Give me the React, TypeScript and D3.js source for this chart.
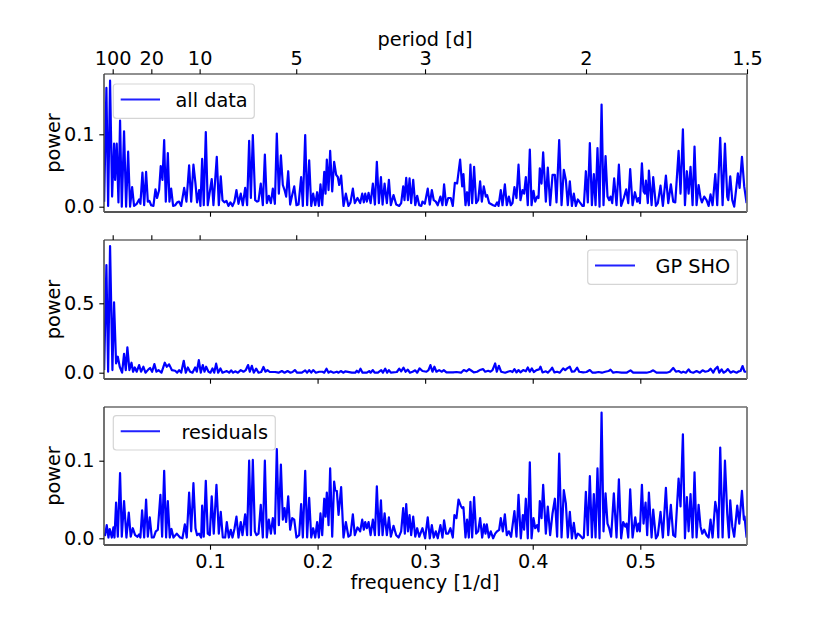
import { useEffect, useRef } from 'react';
import * as d3 from 'd3';

type Pt = [number, number];

const freqTicks = [0.1, 0.2, 0.3, 0.4, 0.5];
const periodTicks = [100, 20, 10, 5, 3, 2, 1.5];

// frequency [1/d], power
const allData: Pt[] = [
  [.0016,.007],[.0037,.164],[.0053,.001],[.0071,.174],[.0090,.014],[.0108,.087],[.0118,.037],[.0133,.087],[.0149,.006],[.0164,.119],
  [.0180,.000],[.0201,.104],[.0220,.000],[.0239,.076],[.0257,.000],[.0276,.027],[.0294,.001],[.0319,.004],[.0341,.010],[.0353,.004],
  [.0372,.047],[.0388,.002],[.0406,.048],[.0422,.007],[.0437,.008],[.0453,.002],[.0474,.001],[.0493,.024],[.0508,.012],[.0527,.023],
  [.0542,.056],[.0558,.037],[.0574,.092],[.0589,.007],[.0608,.074],[.0623,.007],[.0639,.025],[.0657,.001],[.0676,.002],[.0695,.006],
  [.0713,.007],[.0732,.001],[.0760,.026],[.0781,.007],[.0806,.057],[.0825,.007],[.0846,.058],[.0865,.032],[.0880,.006],[.0899,.023],
  [.0911,.001],[.0927,.066],[.0942,.002],[.0961,.103],[.0979,.002],[.1016,.038],[.1032,.002],[.1063,.069],[.1082,.002],[.1100,.042],
  [.1116,.009],[.1134,.006],[.1153,.008],[.1171,.001],[.1190,.006],[.1209,.001],[.1227,.007],[.1246,.023],[.1265,.004],[.1286,.018],
  [.1305,.002],[.1327,.026],[.1345,.002],[.1364,.091],[.1380,.012],[.1398,.099],[.1420,.009],[.1438,.007],[.1451,.008],[.1472,.032],
  [.1491,.002],[.1510,.072],[.1528,.005],[.1547,.015],[.1566,.005],[.1584,.025],[.1603,.004],[.1621,.101],[.1640,.018],[.1659,.071],
  [.1677,.030],[.1693,.023],[.1708,.014],[.1727,.049],[.1745,.003],[.1764,.016],[.1783,.028],[.1804,.002],[.1823,.003],[.1847,.041],
  [.1863,.001],[.1885,.099],[.1903,.002],[.1922,.064],[.1941,.001],[.1959,.018],[.1978,.002],[.1996,.020],[.2012,.001],[.2027,.031],
  [.2043,.002],[.2062,.048],[.2074,.018],[.2086,.065],[.2102,.023],[.2117,.077],[.2136,.021],[.2154,.062],[.2173,.044],[.2188,.041],
  [.2201,.030],[.2219,.043],[.2241,.001],[.2263,.018],[.2287,.001],[.2306,.006],[.2328,.025],[.2346,.005],[.2371,.012],[.2396,.005],
  [.2415,.018],[.2430,.006],[.2443,.018],[.2458,.007],[.2474,.019],[.2493,.005],[.2514,.032],[.2533,.003],[.2551,.062],[.2570,.005],
  [.2589,.041],[.2604,.003],[.2623,.032],[.2644,.005],[.2663,.037],[.2681,.002],[.2706,.016],[.2731,.003],[.2759,.001],[.2777,.005],
  [.2796,.028],[.2808,.009],[.2824,.040],[.2840,.009],[.2855,.039],[.2870,.005],[.2889,.037],[.2908,.002],[.2926,.015],[.2945,.002],
  [.2964,.001],[.2975,.007],[.2997,.004],[.3024,.025],[.3043,.003],[.3062,.023],[.3080,.009],[.3099,.007],[.3117,.002],[.3142,.014],
  [.3161,.002],[.3176,.031],[.3195,.002],[.3214,.012],[.3238,.012],[.3257,.001],[.3276,.033],[.3297,.032],[.3325,.065],[.3344,.028],
  [.3356,.045],[.3375,.002],[.3390,.020],[.3406,.002],[.3421,.058],[.3437,.005],[.3455,.055],[.3474,.005],[.3493,.009],[.3511,.035],
  [.3527,.007],[.3545,.028],[.3564,.014],[.3576,.016],[.3595,.005],[.3632,.002],[.3651,.001],[.3669,.006],[.3682,.001],[.3703,.023],
  [.3719,.002],[.3741,.031],[.3759,.002],[.3778,.014],[.3796,.002],[.3812,.005],[.3830,.027],[.3849,.012],[.3868,.058],[.3886,.009],
  [.3905,.023],[.3920,.018],[.3936,.041],[.3954,.002],[.3973,.079],[.3989,.002],[.4007,.022],[.4023,.007],[.4041,.014],[.4054,.012],
  [.4066,.053],[.4082,.032],[.4097,.075],[.4122,.007],[.4140,.054],[.4162,.002],[.4184,.044],[.4206,.044],[.4221,.006],[.4246,.092],
  [.4268,.002],[.4289,.051],[.4308,.037],[.4326,.002],[.4345,.035],[.4364,.001],[.4382,.018],[.4401,.001],[.4419,.010],[.4438,.006],
  [.4463,.001],[.4475,.001],[.4494,.049],[.4512,.006],[.4531,.088],[.4550,.002],[.4568,.045],[.4584,.002],[.4602,.081],[.4621,.000],
  [.4640,.141],[.4658,.002],[.4677,.070],[.4695,.014],[.4711,.009],[.4723,.014],[.4739,.005],[.4757,.039],[.4779,.002],[.4801,.058],
  [.4822,.001],[.4847,.012],[.4869,.024],[.4888,.005],[.4906,.052],[.4928,.002],[.4950,.020],[.4971,.007],[.4984,.012],[.4996,.005],
  [.5015,.060],[.5030,.021],[.5043,.018],[.5052,.036],[.5070,.005],[.5080,.050],[.5105,.002],[.5120,.041],[.5145,.001],[.5163,.005],
  [.5188,.029],[.5210,.001],[.5238,.043],[.5260,.005],[.5284,.031],[.5306,.007],[.5325,.006],[.5356,.077],[.5374,.018],[.5396,.107],
  [.5415,.002],[.5433,.049],[.5449,.018],[.5467,.055],[.5486,.002],[.5504,.083],[.5523,.002],[.5542,.030],[.5560,.012],[.5573,.006],
  [.5594,.014],[.5616,.009],[.5635,.001],[.5653,.017],[.5672,.002],[.5697,.045],[.5715,.002],[.5743,.095],[.5765,.002],[.5787,.087],
  [.5808,.014],[.5818,.009],[.5836,.042],[.5855,.009],[.5873,.000],[.5907,.046],[.5923,.026],[.5945,.069],[.5966,.028],[.5988,.005],
];

const gpSho: Pt[] = [
  [.0016,.019],[.0037,.775],[.0053,.007],[.0071,.913],[.0093,.019],[.0108,.507],[.0127,.067],[.0143,.115],[.0161,.043],[.0183,.000],
  [.0201,.135],[.0217,.019],[.0232,.183],[.0251,.019],[.0270,.072],[.0285,.007],[.0301,.038],[.0319,.007],[.0341,.055],[.0359,.007],
  [.0381,.043],[.0400,.000],[.0428,.024],[.0443,.034],[.0462,.007],[.0483,.062],[.0502,.007],[.0521,.019],[.0549,.000],[.0580,.072],
  [.0598,.043],[.0620,.060],[.0645,.019],[.0676,.014],[.0695,.000],[.0713,.019],[.0732,.000],[.0756,.086],[.0775,.000],[.0794,.038],
  [.0815,.007],[.0837,.000],[.0862,.038],[.0877,.007],[.0896,.091],[.0914,.000],[.0933,.055],[.0949,.007],[.0964,.043],[.0986,.007],
  [.1004,.000],[.1023,.031],[.1039,.000],[.1057,.065],[.1076,.000],[.1097,.031],[.1116,.000],[.1156,.012],[.1178,.000],[.1196,.017],
  [.1215,.000],[.1234,.010],[.1259,.000],[.1286,.019],[.1311,.007],[.1333,.019],[.1354,.055],[.1370,.007],[.1389,.050],[.1407,.000],
  [.1429,.029],[.1451,.000],[.1476,.005],[.1497,.041],[.1516,.007],[.1534,.019],[.1556,.005],[.1606,.005],[.1637,.000],[.1668,.012],
  [.1693,.000],[.1721,.012],[.1748,.000],[.1767,.005],[.1789,.019],[.1810,.000],[.1854,.000],[.1885,.017],[.1903,.000],[.1922,.019],
  [.1941,.000],[.1959,.019],[.1984,.000],[.2015,.007],[.2046,.007],[.2062,.000],[.2083,.029],[.2102,.000],[.2120,.010],[.2148,.000],
  [.2179,.007],[.2195,.000],[.2216,.012],[.2241,.000],[.2257,.010],[.2319,.000],[.2350,.000],[.2365,.014],[.2381,.002],[.2399,.029],
  [.2418,.000],[.2458,.000],[.2480,.012],[.2493,.000],[.2514,.019],[.2530,.000],[.2561,.000],[.2592,.019],[.2607,.000],[.2629,.029],
  [.2647,.000],[.2663,.019],[.2681,.000],[.2737,.005],[.2759,.029],[.2777,.010],[.2799,.036],[.2818,.007],[.2839,.022],[.2858,.000],
  [.2883,.007],[.2908,.017],[.2926,.000],[.2948,.031],[.2975,.012],[.3012,.007],[.3031,.019],[.3049,.055],[.3068,.007],[.3086,.043],
  [.3105,.007],[.3130,.019],[.3155,.007],[.3173,.019],[.3198,.002],[.3260,.002],[.3291,.005],[.3334,.000],[.3359,.019],[.3384,.010],
  [.3409,.026],[.3431,.014],[.3452,.002],[.3483,.007],[.3508,.019],[.3539,.026],[.3558,.007],[.3586,.014],[.3607,.007],[.3626,.019],
  [.3651,.067],[.3666,.007],[.3685,.050],[.3706,.007],[.3744,.000],[.3768,.007],[.3793,.012],[.3812,.005],[.3830,.026],[.3849,.002],
  [.3868,.019],[.3886,.002],[.3911,.019],[.3936,.010],[.3954,.038],[.3973,.007],[.3992,.031],[.4010,.005],[.4035,.019],[.4060,.024],
  [.4072,.043],[.4091,.002],[.4122,.010],[.4140,.000],[.4165,.019],[.4181,.036],[.4202,.002],[.4227,.007],[.4252,.000],[.4283,.031],
  [.4302,.019],[.4320,.031],[.4345,.043],[.4364,.007],[.4388,.010],[.4413,.036],[.4432,.007],[.4469,.002],[.4500,.005],[.4531,.019],
  [.4556,.000],[.4581,.000],[.4612,.005],[.4643,.000],[.4674,.007],[.4705,.012],[.4723,.022],[.4748,.000],[.4779,.005],[.4826,.000],
  [.4872,.000],[.4909,.017],[.4934,.000],[.4996,.000],[.5058,.000],[.5095,.007],[.5120,.017],[.5151,.000],[.5244,.000],[.5275,.007],
  [.5306,.034],[.5331,.007],[.5356,.012],[.5380,.000],[.5399,.007],[.5424,.000],[.5449,.024],[.5467,.005],[.5492,.000],[.5523,.012],
  [.5554,.000],[.5579,.017],[.5604,.007],[.5632,.012],[.5653,.029],[.5678,.000],[.5694,.024],[.5718,.043],[.5734,.000],[.5756,.024],
  [.5774,.000],[.5796,.010],[.5814,.026],[.5839,.000],[.5864,.010],[.5895,.000],[.5917,.010],[.5932,.012],[.5951,.048],[.5969,.007],
  [.5991,.007],
];

const residuals: Pt[] = [
  [.0016,.006],[.0025,.004],[.0040,.017],[.0056,.001],[.0068,.012],[.0087,.001],[.0102,.014],[.0112,.001],[.0127,.046],[.0143,.002],
  [.0164,.084],[.0180,.002],[.0201,.048],[.0223,.001],[.0245,.033],[.0263,.002],[.0282,.013],[.0304,.004],[.0326,.002],[.0341,.005],
  [.0353,.001],[.0369,.036],[.0388,.001],[.0406,.050],[.0422,.002],[.0440,.027],[.0459,.001],[.0477,.001],[.0496,.009],[.0515,.011],
  [.0539,.056],[.0555,.002],[.0574,.087],[.0592,.001],[.0608,.048],[.0626,.001],[.0642,.012],[.0660,.001],[.0691,.006],[.0722,.001],
  [.0744,.000],[.0766,.018],[.0784,.001],[.0806,.059],[.0825,.009],[.0846,.071],[.0865,.013],[.0880,.004],[.0899,.006],[.0918,.001],
  [.0927,.042],[.0942,.002],[.0961,.074],[.0979,.006],[.0998,.004],[.1016,.054],[.1035,.006],[.1060,.069],[.1082,.006],[.1100,.034],
  [.1119,.001],[.1141,.001],[.1156,.021],[.1175,.001],[.1193,.011],[.1209,.001],[.1227,.012],[.1246,.028],[.1265,.001],[.1286,.021],
  [.1302,.004],[.1327,.031],[.1345,.004],[.1364,.100],[.1380,.004],[.1398,.101],[.1417,.009],[.1432,.004],[.1451,.006],[.1472,.043],
  [.1491,.001],[.1510,.100],[.1528,.001],[.1547,.024],[.1566,.006],[.1584,.026],[.1603,.006],[.1621,.115],[.1640,.017],[.1659,.095],
  [.1677,.024],[.1693,.039],[.1708,.021],[.1727,.054],[.1745,.011],[.1764,.026],[.1783,.024],[.1804,.001],[.1829,.004],[.1847,.044],
  [.1863,.001],[.1885,.087],[.1903,.001],[.1922,.052],[.1941,.001],[.1959,.013],[.1978,.001],[.1996,.021],[.2012,.001],[.2027,.032],
  [.2043,.004],[.2062,.051],[.2074,.028],[.2086,.059],[.2102,.017],[.2117,.090],[.2136,.002],[.2154,.073],[.2164,.062],[.2179,.061],
  [.2195,.030],[.2219,.066],[.2241,.001],[.2263,.021],[.2287,.002],[.2306,.004],[.2328,.031],[.2346,.004],[.2371,.014],[.2396,.009],
  [.2415,.024],[.2430,.011],[.2443,.021],[.2458,.013],[.2474,.021],[.2493,.004],[.2514,.024],[.2533,.004],[.2551,.067],[.2570,.004],
  [.2589,.049],[.2604,.004],[.2623,.032],[.2644,.004],[.2663,.027],[.2681,.002],[.2706,.016],[.2731,.004],[.2753,.001],[.2777,.009],
  [.2796,.039],[.2811,.006],[.2824,.044],[.2840,.009],[.2855,.030],[.2870,.004],[.2889,.028],[.2908,.002],[.2926,.013],[.2945,.002],
  [.2975,.013],[.3000,.000],[.3024,.027],[.3043,.000],[.3062,.017],[.3080,.001],[.3099,.009],[.3117,.000],[.3142,.017],[.3161,.001],
  [.3176,.023],[.3195,.006],[.3214,.006],[.3235,.013],[.3257,.001],[.3272,.030],[.3291,.026],[.3310,.050],[.3331,.042],[.3344,.039],
  [.3356,.040],[.3375,.001],[.3390,.024],[.3406,.001],[.3421,.047],[.3437,.001],[.3455,.053],[.3474,.006],[.3493,.009],[.3511,.026],
  [.3530,.001],[.3548,.018],[.3561,.006],[.3573,.018],[.3592,.001],[.3610,.009],[.3632,.000],[.3651,.006],[.3669,.009],[.3688,.011],
  [.3703,.026],[.3722,.009],[.3741,.031],[.3759,.004],[.3778,.009],[.3799,.002],[.3830,.035],[.3849,.002],[.3868,.056],[.3889,.000],
  [.3908,.030],[.3920,.011],[.3936,.051],[.3954,.000],[.3973,.098],[.3989,.000],[.4007,.026],[.4023,.013],[.4041,.017],[.4054,.009],
  [.4066,.048],[.4082,.026],[.4097,.069],[.4122,.006],[.4140,.041],[.4162,.004],[.4184,.032],[.4206,.051],[.4227,.002],[.4246,.109],
  [.4268,.001],[.4289,.062],[.4308,.045],[.4326,.001],[.4345,.034],[.4364,.000],[.4382,.020],[.4401,.000],[.4419,.006],[.4438,.004],
  [.4463,.000],[.4475,.001],[.4494,.060],[.4512,.004],[.4531,.080],[.4550,.001],[.4568,.057],[.4584,.001],[.4602,.090],[.4621,.000],
  [.4640,.162],[.4658,.009],[.4677,.058],[.4695,.019],[.4711,.013],[.4729,.002],[.4754,.058],[.4779,.001],[.4801,.076],[.4822,.000],
  [.4841,.021],[.4860,.015],[.4872,.019],[.4888,.001],[.4906,.063],[.4928,.001],[.4953,.027],[.4971,.009],[.4984,.019],[.4996,.009],
  [.5015,.069],[.5030,.019],[.5049,.046],[.5064,.004],[.5080,.059],[.5105,.001],[.5120,.037],[.5145,.000],[.5163,.004],[.5188,.034],
  [.5210,.001],[.5238,.065],[.5260,.004],[.5284,.043],[.5306,.004],[.5325,.002],[.5356,.077],[.5374,.041],[.5396,.134],[.5415,.000],
  [.5433,.053],[.5449,.009],[.5467,.057],[.5486,.001],[.5504,.085],[.5523,.001],[.5542,.043],[.5560,.015],[.5576,.006],[.5594,.011],
  [.5616,.004],[.5635,.001],[.5653,.024],[.5672,.001],[.5697,.047],[.5715,.032],[.5725,.001],[.5743,.117],[.5765,.001],[.5787,.100],
  [.5808,.032],[.5824,.001],[.5836,.049],[.5855,.015],[.5873,.002],[.5901,.042],[.5920,.019],[.5945,.061],[.5963,.024],[.5969,.028],
  [.5988,.001],
];

const FONT = '"DejaVu Sans", sans-serif';
const FS = 19.3;
const left = 104;
const right = 747;

const x = d3.scaleLinear().domain([0.1, 0.5]).range([210, 640.3]);
const xTop = d3.scaleLinear().domain([0.001, 1 / 1.5]).range([left, right]);

const panels = [
  { name: 'all data', data: allData, top: 74, bottom: 212, y0: 206.7, yRef: 134.3, vRef: 0.1, ticks: [0, 0.1],
    box: [113.3, 84, 141, 34.3], lineX: [120.7, 160], textX: 175.5 },
  { name: 'GP SHO', data: gpSho, top: 240, bottom: 379, y0: 372.7, yRef: 303.3, vRef: 0.5, ticks: [0, 0.5],
    box: [587.7, 250, 149.6, 34.3], lineX: [595, 635], textX: 655.5 },
  { name: 'residuals', data: residuals, top: 407, bottom: 545, y0: 538.3, yRef: 460.7, vRef: 0.1, ticks: [0, 0.1],
    box: [113.3, 415.7, 162, 34.3], lineX: [120.7, 160], textX: 181.5 },
];

function styleAxis(g: d3.Selection<SVGGElement, unknown, null, undefined>) {
  g.select('.domain').remove();
  g.selectAll('line').attr('stroke', '#000').attr('stroke-width', 1.1);
  g.selectAll('text').attr('font-family', FONT).attr('font-size', FS).attr('fill', '#000');
}

export default function App() {
  const ref = useRef<SVGSVGElement | null>(null);

  useEffect(() => {
    if (!ref.current) return;
    const svg = d3.select(ref.current);
    svg.selectAll('*').remove();

    panels.forEach((p, i) => {
      const y = d3.scaleLinear().domain([0, p.vRef]).range([p.y0, p.yRef]);
      const g = svg.append('g');

      // clip to the axes box
      const clipId = `clip-${i}`;
      g.append('clipPath').attr('id', clipId).append('rect')
        .attr('x', left).attr('y', p.top).attr('width', right - left).attr('height', p.bottom - p.top);

      const line = d3.line<Pt>().x(d => x(d[0])).y(d => y(d[1]));
      g.append('path')
        .attr('clip-path', `url(#${clipId})`)
        .attr('fill', 'none')
        .attr('stroke', '#0000ff')
        .attr('stroke-width', 2.2)
        .attr('stroke-linejoin', 'round')
        .attr('d', line(p.data) || '');

      // spines: the top one is thin and dark, the others heavier and greyer
      g.append('line').attr('x1', left).attr('x2', right).attr('y1', p.top).attr('y2', p.top)
        .attr('stroke', '#222').attr('stroke-width', 1.2);
      g.append('line').attr('x1', left).attr('x2', left).attr('y1', p.top).attr('y2', p.bottom)
        .attr('stroke', '#444').attr('stroke-width', 1.5);
      g.append('line').attr('x1', left).attr('x2', right).attr('y1', p.bottom).attr('y2', p.bottom)
        .attr('stroke', '#555').attr('stroke-width', 1.8);
      g.append('line').attr('x1', right).attr('x2', right).attr('y1', p.top).attr('y2', p.bottom)
        .attr('stroke', '#777').attr('stroke-width', 1.8);

      // y axis
      const yAxis = g.append('g').attr('transform', `translate(${left},0)`)
        .call(d3.axisLeft(y).tickValues(p.ticks).tickFormat(d3.format('.1f')).tickSize(4.7).tickPadding(4.7));
      styleAxis(yAxis);

      g.append('text')
        .attr('transform', `translate(60,${(p.top + p.bottom) / 2}) rotate(-90)`)
        .attr('text-anchor', 'middle')
        .attr('font-family', FONT).attr('font-size', FS)
        .text('power');

      // bottom ticks, labels only on the last panel
      const xAxis = g.append('g').attr('transform', `translate(0,${p.bottom})`)
        .call(d3.axisBottom(x).tickValues(freqTicks).tickFormat(i === 2 ? d3.format('.1f') : () => '').tickSize(4.7).tickPadding(4.7));
      styleAxis(xAxis);

      // period ticks on the two upper panels
      if (i < 2) {
        const topAxis = g.append('g').attr('transform', `translate(0,${p.top})`)
          .call(d3.axisTop(xTop).tickValues(periodTicks.map(d => 1 / d))
            .tickFormat((_, k) => (i === 0 ? String(periodTicks[k]) : ''))
            .tickSize(4.7).tickPadding(4.7));
        styleAxis(topAxis);
      }

      // legend
      const [bx, by, bw, bh] = p.box;
      g.append('rect').attr('x', bx).attr('y', by).attr('width', bw).attr('height', bh)
        .attr('rx', 3).attr('fill', '#fff').attr('fill-opacity', 0.8)
        .attr('stroke', '#d5d5d5').attr('stroke-width', 1.2);
      g.append('line').attr('x1', p.lineX[0]).attr('x2', p.lineX[1])
        .attr('y1', by + bh / 2 - 1.6).attr('y2', by + bh / 2 - 1.6)
        .attr('stroke', '#2020ff').attr('stroke-width', 2);
      g.append('text').attr('x', p.textX).attr('y', by + bh / 2 + 6)
        .attr('font-family', FONT).attr('font-size', FS)
        .text(p.name);
    });

    svg.append('text').attr('x', 425).attr('y', 46).attr('text-anchor', 'middle')
      .attr('font-family', FONT).attr('font-size', FS).text('period [d]');
    svg.append('text').attr('x', 425).attr('y', 589).attr('text-anchor', 'middle')
      .attr('font-family', FONT).attr('font-size', FS).text('frequency [1/d]');
  }, []);

  return <svg ref={ref} width={830} height={623} style={{ position: 'absolute', left: 0, top: 0, background: '#fff' }} />;
}
